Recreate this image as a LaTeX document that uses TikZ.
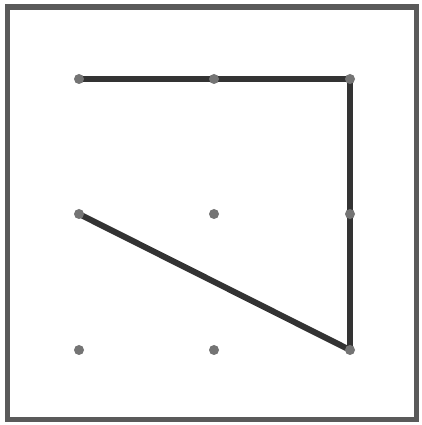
\documentclass[tikz,border=0pt]{standalone}
\usepackage{tikz}
\usetikzlibrary{positioning,backgrounds}
\definecolor{framegray}{HTML}{5A5A5A}
\definecolor{linegray}{HTML}{333333}
\definecolor{dotgray}{HTML}{747474}

\begin{document}
\begin{tikzpicture}[x=1pt,y=1pt,
  peg/.style={circle, fill=dotgray, inner sep=0pt, minimum size=10pt},
  band/.style={draw=linegray, line width=6pt, line cap=round}]
\useasboundingbox (0,0) rectangle (422,425);
\draw[framegray, line width=5.5pt] (7.5,5.5) rectangle (416.5,418);
\foreach \i/\x in {0/79,1/214,2/350}
  \foreach \j/\y in {0/75,1/211,2/346}
    \node[peg] (p\i\j) at (\x,\y) {};
\begin{scope}[on background layer]
\fill[white] (0,0) rectangle (422,425);
\draw[band] (p02.center) -- (p22.center);
\draw[band] (p22.center) -- (p20.center);
\draw[band] (p20.center) -- (p01.center);
\end{scope}
\end{tikzpicture}
\end{document}
